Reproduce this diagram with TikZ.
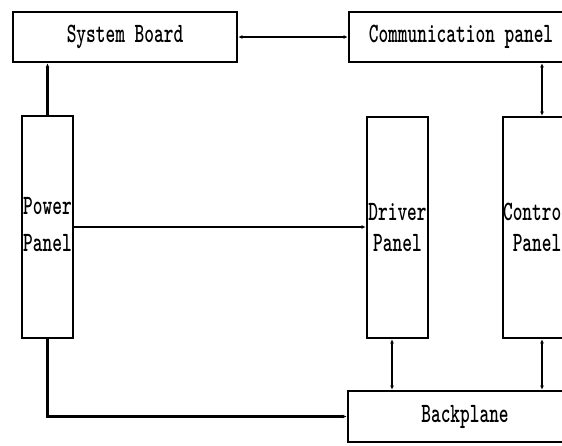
\documentclass[tikz,border=0pt]{standalone}
\usepackage{graphicx}
\usetikzlibrary{arrows.meta}
\newcommand{\nt}[1]{\scalebox{0.66}[1]{#1}}
\begin{document}
\begin{tikzpicture}[x=1pt,y=-1pt,
  box/.style={draw, line width=2.8pt, inner sep=0pt, align=center,
    font=\fontsize{28}{34}\selectfont\ttfamily\bfseries},
  conn/.style={line width=2.6pt, >={Latex[length=4pt,width=4pt]}}]
\useasboundingbox (0,0) rectangle (562,446);
\clip (0,0) rectangle (562,446);
\node[box, minimum width=224pt, minimum height=50pt] (sb) at (125,37) {\nt{System Board}};
\node[box, minimum width=224pt, minimum height=50pt] (comm) at (461,37) {\nt{Communication panel}};
\node[box, minimum width=51pt, minimum height=222pt, font=\fontsize{28}{37}\selectfont\ttfamily\bfseries] (pwr) at (47.5,227) {\raisebox{6pt}{\nt{Power}}\\\raisebox{6pt}{\nt{Panel}}};
\node[box, minimum width=61pt, minimum height=221pt, font=\fontsize{28}{31}\selectfont\ttfamily\bfseries] (drv) at (397.5,227.5) {\nt{Driver}\\\nt{Panel}};
\node[box, minimum width=68pt, minimum height=221pt, font=\fontsize{28}{31}\selectfont\ttfamily\bfseries] (ctrl) at (537,227.5) {\nt{Control}\\\nt{Panel}};
\node[box, minimum width=234pt, minimum height=51pt] (bp) at (465,416.5) {\nt{Backplane}};
\draw[conn,<->] (sb.east) -- (comm.west);
\draw[conn,->] (pwr.north) -- (pwr.north |- sb.south);
\draw[conn,<->] ([xshift=5pt]ctrl.north |- comm.south) -- ([xshift=5pt]ctrl.north);
\draw[conn,->] (pwr.east) -- (pwr.east -| drv.west);
\draw[conn,<->] ([xshift=-5.5pt]drv.south) -- ([xshift=-5.5pt]drv.south |- bp.north);
\draw[conn,<->] ([xshift=5pt]ctrl.south) -- ([xshift=5pt]ctrl.south |- bp.north);
\draw[conn,->] (pwr.south) |- (bp.west);
\end{tikzpicture}
\end{document}
